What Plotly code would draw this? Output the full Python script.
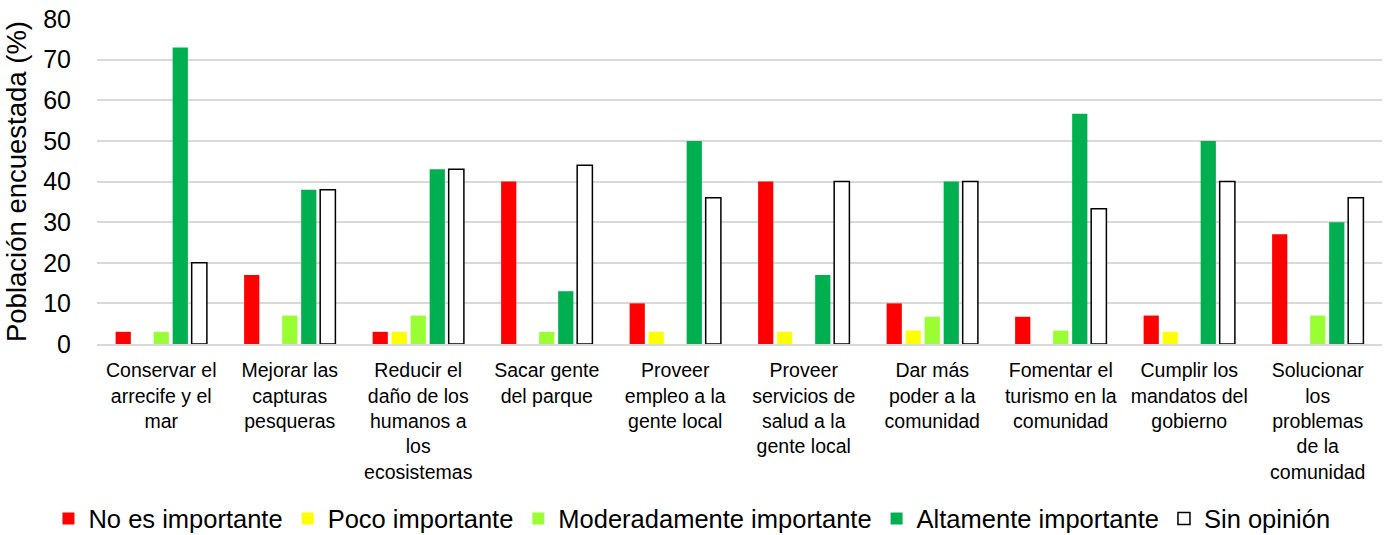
import plotly.graph_objects as go

categories = [
    "Conservar el<br>arrecife y el<br>mar",
    "Mejorar las<br>capturas<br>pesqueras",
    "Reducir el<br>daño de los<br>humanos a<br>los<br>ecosistemas",
    "Sacar gente<br>del parque",
    "Proveer<br>empleo a la<br>gente local",
    "Proveer<br>servicios de<br>salud a la<br>gente local",
    "Dar más<br>poder a la<br>comunidad",
    "Fomentar el<br>turismo en la<br>comunidad",
    "Cumplir los<br>mandatos del<br>gobierno",
    "Solucionar<br>los<br>problemas<br>de la<br>comunidad",
]

no_importante = [3, 17, 3, 40, 10, 40, 10, 6.7, 7, 27]
poco_importante = [0, 0, 3, 0, 3, 3, 3.3, 0, 3, 0]
moderadamente = [3, 7, 7, 3, 0, 0, 6.7, 3.3, 0, 7]
altamente = [73, 38, 43, 13, 50, 17, 40, 56.7, 50, 30]
sin_opinion = [20, 38, 43, 44, 36, 40, 40, 33.3, 40, 36]

series = [
    ("No es importante", no_importante, "#FF0000", "#FF0000", 0),
    ("Poco importante", poco_importante, "#FFFF00", "#FFFF00", 0),
    ("Moderadamente importante", moderadamente, "#99FF33", "#99FF33", 0),
    ("Altamente importante", altamente, "#00B050", "#00B050", 0),
    ("Sin opinión", sin_opinion, "#FFFFFF", "#000000", 1.5),
]

fig = go.Figure()
for name, vals, fill, line, lw in series:
    fig.add_trace(
        go.Bar(
            x=categories,
            y=vals,
            name=name,
            marker=dict(color=fill, line=dict(color=line, width=lw)),
        )
    )

font = "Liberation Sans, Arial, sans-serif"

fig.update_layout(
    barmode="group",
    bargap=0.26,
    bargroupgap=0.2,
    width=1390,
    height=535,
    margin=dict(l=97, r=8, t=19, b=191, autoexpand=False),
    plot_bgcolor="white",
    paper_bgcolor="white",
    font=dict(family=font, size=20, color="black"),
    legend=dict(
        orientation="h",
        x=0.463,
        xanchor="center",
        yref="container",
        y=0.03,
        yanchor="middle",
        font=dict(size=25.5),
        tracegroupgap=0,
    ),
    showlegend=True,
)

fig.update_yaxes(
    range=[0, 80],
    dtick=10,
    showgrid=True,
    gridcolor="#D9D9D9",
    gridwidth=1.5,
    zeroline=False,
    showline=False,
    tickfont=dict(size=25),
    ticks="",
    ticklabelstandoff=25,
    ticklabeloverflow="allow",
    automargin=False,
    title=dict(text="Población encuestada (%)", font=dict(size=27.5), standoff=8),
)

fig.update_xaxes(
    showline=True,
    linecolor="#D9D9D9",
    linewidth=1.5,
    tickfont=dict(size=19.5),
    ticks="",
    tickangle=0,
    ticklabelstandoff=8,
    automargin=False,
)

# drop the default 8px body margin so the figure fills the window
fig.write_html(
    "out.html",
    config={"displayModeBar": False},
    post_script="document.body.style.margin = '0';",
)
